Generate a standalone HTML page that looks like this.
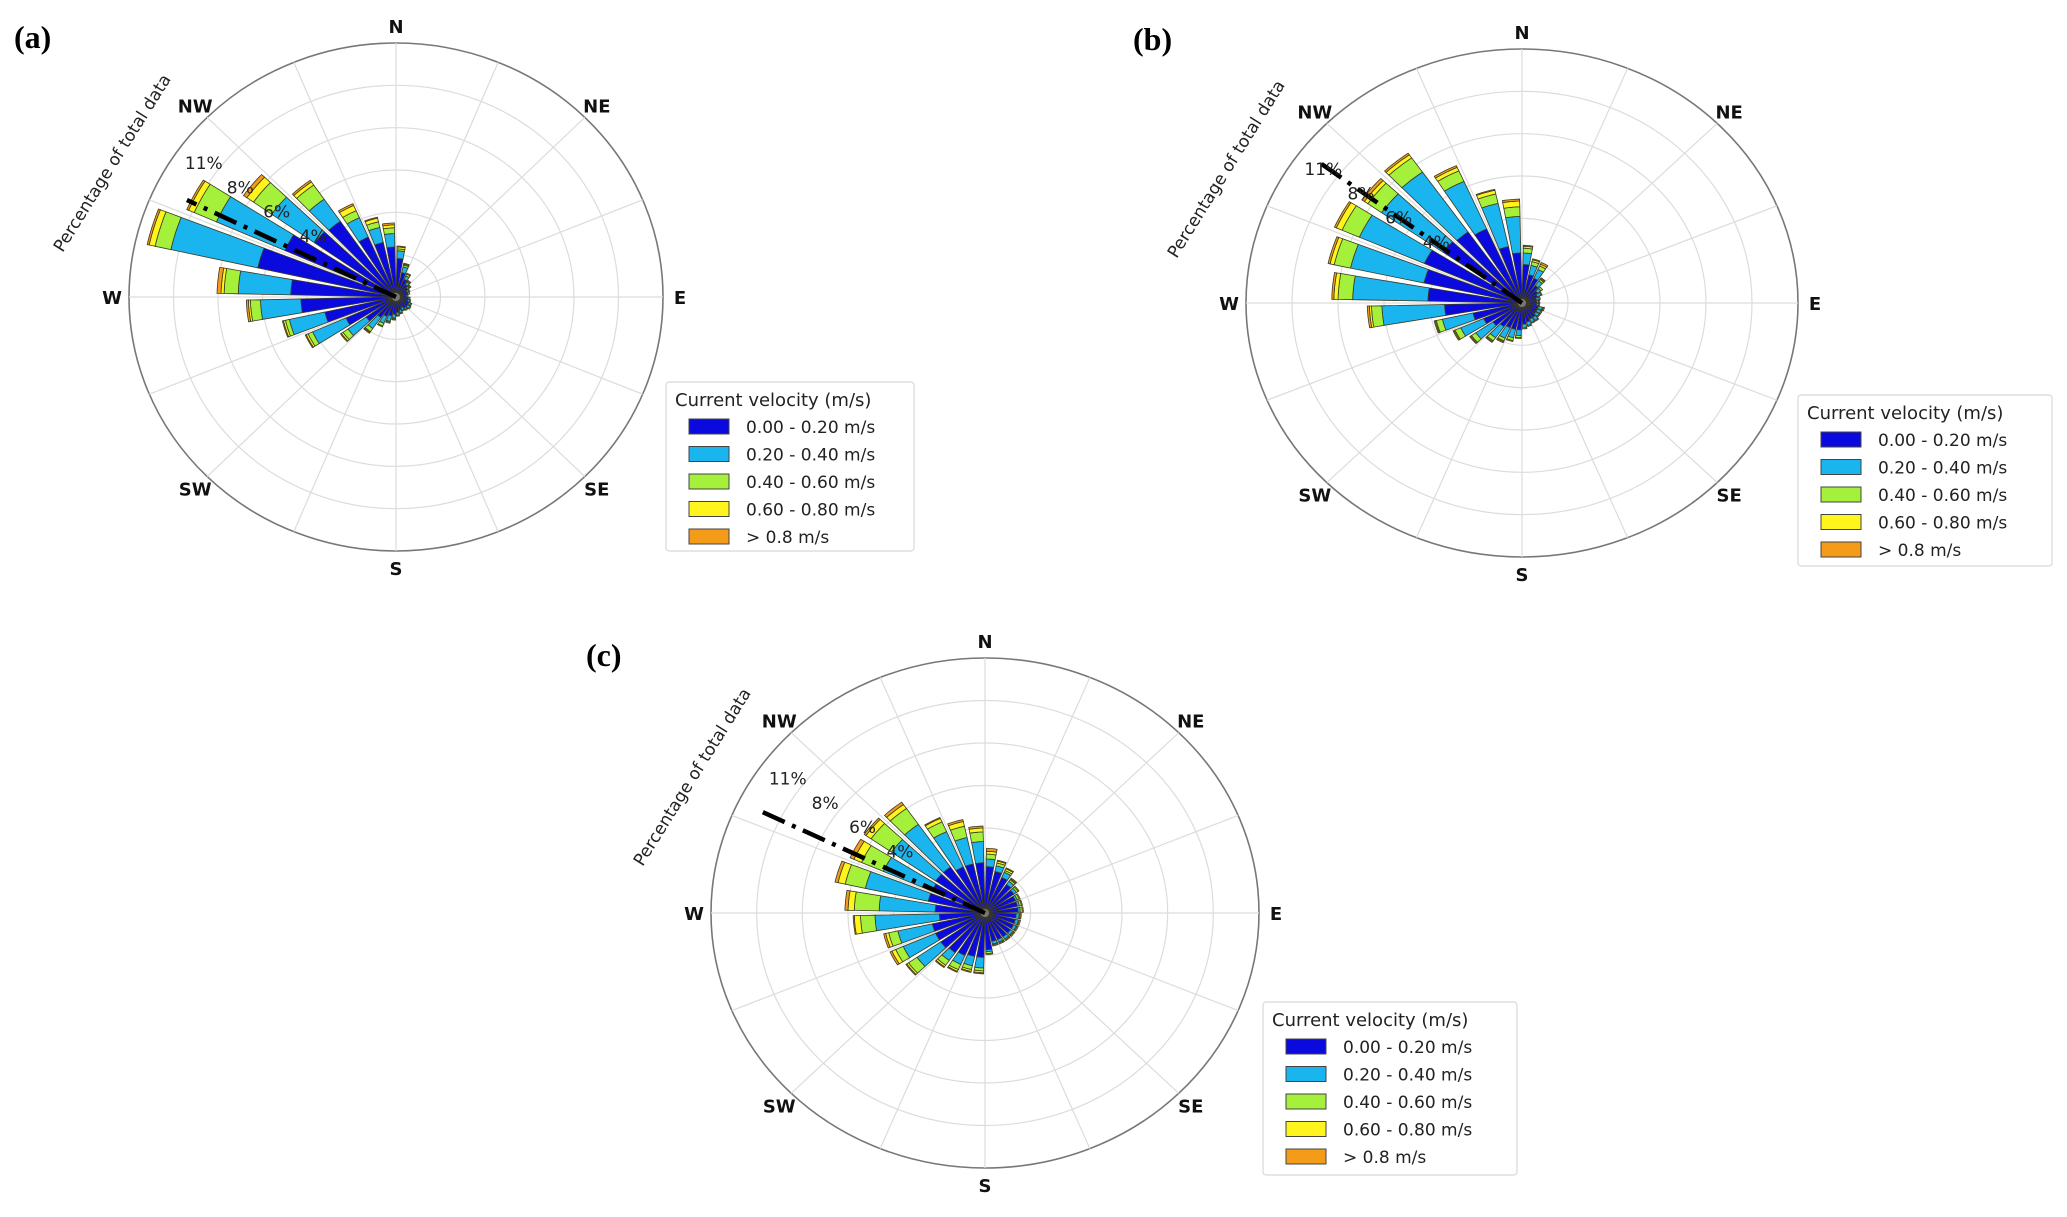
<!DOCTYPE html>
<html><head><meta charset="utf-8">
<style>
html,body{margin:0;padding:0;background:#fff;}
svg{display:block;}
text{font-family:"DejaVu Sans","Liberation Sans",sans-serif;}
</style></head>
<body>
<svg id="fig" width="2067" height="1217" viewBox="0 0 2067 1217" xmlns="http://www.w3.org/2000/svg"></svg>
<script>
// ---- data ----
const sectorCount = 32;
const binLabels = ["0.00 - 0.20 m/s","0.20 - 0.40 m/s","0.40 - 0.60 m/s","0.60 - 0.80 m/s","> 0.8 m/s"];
const binColors = ["#0a0ade","#1ab4ee","#a4f03a","#fff51c","#f59b1a"];
const ringValues = [2.2,4.4,6.6,8.8,11,13.2];
const ringTickValues = [4.4,6.6,8.8,11];
const ringTickLabels = ["4%","6%","8%","11%"];
const compassLabels = ["N","NE","E","SE","S","SW","W","NW"];

const aBlue   = [2.0,1.3,1.0,.8,.7,.6,.6,.5,.6,.6,.7,.7,.7,.6,.7,.8,.9,1.0,1.1,1.3,1.8,2.7,3.6,4.7,5.2,7.0,6.0,4.9,4.8,3.4,2.9,2.6];
const aCyan   = [.4,.3,.2,.15,.1,.1,.1,.1,.1,.1,.1,.15,.1,.15,.15,.15,.2,.3,.4,.7,1.1,1.8,1.8,2.0,2.6,4.4,3.7,2.6,1.4,1.1,.8,.7];
const aGreen  = [.1,.1,.1,.05,.05,.05,0,0,0,.05,.05,.05,.05,.05,.05,.05,.05,.05,.15,.2,.3,.25,.2,.5,.7,.8,1.2,1.1,.9,.4,.3,.3];
const aYellow = [.1,.05,0,.05,.05,0,0,0,0,0,0,0,0,0,0,0,0,.05,.05,.05,.1,.1,.1,.1,.15,.3,.3,.4,.2,.3,.2,.15];
const aOrange = [.05,.05,.05,0,0,0,0,0,0,0,0,0,0,0,0,0,.05,0,0,.05,.05,.05,.05,.1,.2,.1,.1,.2,.1,.1,.05,.1];

const bBlue   = [2.0,1.5,1.4,1.1,.9,.8,.7,.7,.7,.8,.8,.8,.9,.9,1.0,1.1,1.4,1.4,1.4,1.5,1.7,2.0,2.4,3.7,4.5,4.8,5.1,4.6,4.5,4.2,3.0,2.6];
const bCyan   = [.6,.5,.5,.3,.2,.2,.15,.1,.1,.2,.2,.2,.2,.2,.2,.2,.3,.45,.6,.7,1.0,1.2,1.5,3.0,3.6,3.6,3.4,3.6,3.8,2.7,2.3,1.9];
const bGreen  = [.25,.2,.2,.1,.1,.05,.05,.05,.05,.05,.05,.05,.05,.05,.05,.05,.1,.15,.15,.2,.25,.3,.3,.5,.7,.8,.9,.8,.9,.6,.5,.5];
const bYellow = [.1,.1,.1,.05,0,0,0,0,0,0,0,0,0,0,0,0,.05,.05,.05,.05,.05,.05,.05,.1,.2,.2,.3,.2,.2,.2,.2,.3];
const bOrange = [.05,.05,.1,.05,0,0,0,0,0,.05,0,0,0,0,0,0,0,0,.05,.05,.05,.05,.05,.1,.1,.1,.1,.15,.1,.1,.05,.1];

const cBlue   = [2.4,2.2,2.0,1.8,1.7,1.6,1.6,1.6,1.5,1.5,1.5,1.5,1.5,1.5,1.5,1.9,2.3,2.3,2.4,2.5,2.6,2.6,2.6,2.2,2.4,2.8,2.8,2.9,2.9,2.6,2.6,2.6];
const cCyan   = [.4,.3,.3,.2,.15,.1,.1,.1,.15,.15,.15,.15,.15,.15,.15,.1,.55,.5,.5,.5,1.4,1.7,1.7,3.1,2.7,3.1,2.55,2.6,2.7,2.0,1.4,1.1];
const cGreen  = [.25,.15,.1,.1,.1,.1,.1,.1,.05,.05,.05,.05,.05,.05,.05,.1,.15,.2,.3,.3,.5,.4,.45,.7,1.2,1.0,1.15,1.2,1.0,.55,.6,.5];
const cYellow = [.15,.1,.1,.05,.05,.05,.05,.05,.05,.05,.05,.05,.05,.05,.05,.05,.1,.1,.1,.1,.1,.2,.15,.3,.3,.35,.4,.3,.25,.2,.25,.2];
const cOrange = [.15,.05,.05,.05,0,0,0,0,0,0,0,0,0,0,0,0,.05,.05,.05,.05,.05,.1,.1,.05,.15,.15,.2,.1,.15,.05,.1,.1];

const meanDirections = [296, 307, 296];
const meanLengths = [11.5, 12.4, 12.3];

// ---- layout ----
const panels = [
  {id:"a", cx:396, cy:297, rx:267, ry:254, series:[aBlue,aCyan,aGreen,aYellow,aOrange],
   label:{x:14,y:48}, ylab:{x:117,y:166}, legend:{x:666,y:382,w:248,h:169}},
  {id:"b", cx:1522, cy:303, rx:276, ry:254, series:[bBlue,bCyan,bGreen,bYellow,bOrange],
   label:{x:1133,y:50}, ylab:{x:1231,y:172}, legend:{x:1798,y:395,w:254,h:171}},
  {id:"c", cx:985, cy:913, rx:274, ry:255, series:[cBlue,cCyan,cGreen,cYellow,cOrange],
   label:{x:586,y:666}, ylab:{x:697,y:780}, legend:{x:1263,y:1002,w:254,h:173}}
];

const NS = "http://www.w3.org/2000/svg";
const svg = document.getElementById("fig");
function mk(tag, attrs, parent){
  const e = document.createElementNS(NS, tag);
  for (const k in attrs) e.setAttribute(k, attrs[k]);
  (parent||svg).appendChild(e);
  return e;
}
const maxR = ringValues[ringValues.length-1];

panels.forEach((p, pi) => {
  const g = mk("g", {});
  
  
  const pt = (val, deg) => {
    const t = deg*Math.PI/180, f = val/maxR;
    return [p.cx + f*p.rx*Math.sin(t), p.cy - f*p.ry*Math.cos(t)];
  };
  // grid rings
  ringValues.forEach((v, i) => {
    const last = i === ringValues.length-1;
    const e = mk("ellipse", {cx:p.cx, cy:p.cy, rx:p.rx*v/maxR, ry:p.ry*v/maxR, fill:"none",
      stroke: last ? "#777" : "#dcdcdc", "stroke-width": last ? 1.6 : 1.2}, g);
    
    
  });
  // spokes
  for (let s = 0; s < 16; s++) {
    const [x, y] = pt(maxR, s*22.5);
    const l = mk("line", {x1:p.cx, y1:p.cy, x2:x, y2:y, stroke:"#dcdcdc", "stroke-width":1.2}, g);
    
    
  }
  // bars
  const half = 4.4;
  for (let k = 0; k < sectorCount; k++) {
    const th = 5.625 + k*360/sectorCount;
    let r0 = 0;
    for (let b = 0; b < 5; b++) {
      const v = p.series[b][k];
      if (v <= 0) continue;
      const r1 = r0 + v;
      let d = "";
      const n = 6;
      for (let i = 0; i <= n; i++) {
        const a = th - half + 2*half*i/n;
        const [x, y] = pt(r1, a);
        d += (i === 0 ? "M" : "L") + x.toFixed(1) + "," + y.toFixed(1);
      }
      for (let i = n; i >= 0; i--) {
        const a = th - half + 2*half*i/n;
        const [x, y] = pt(r0, a);
        d += "L" + x.toFixed(1) + "," + y.toFixed(1);
      }
      d += "Z";
      const seg = mk("path", {d:d, fill:binColors[b], stroke:"#3a3a20", "stroke-width":0.8}, g);
      
      
      r0 = r1;
    }
  }
  // center
  const c0 = mk("circle", {cx:p.cx, cy:p.cy, r:4, fill:"#777"}, g);
  
  
  // mean direction line
  const [mx, my] = pt(meanLengths[pi], meanDirections[pi]);
  const ml = mk("line", {x1:p.cx, y1:p.cy, x2:mx, y2:my, stroke:"#000", "stroke-width":4.5,
    "stroke-dasharray":"24,8,4,8"}, g);
  
  
  // ring tick labels
  ringTickValues.forEach((v, i) => {
    const [x, y] = pt(v + 0.6, 305);
    const t = mk("text", {x:x, y:y, "font-size":17, fill:"#222", "text-anchor":"middle"}, g);
    t.textContent = ringTickLabels[i];
    
    
  });
  // compass labels
  compassLabels.forEach((lab, i) => {
    const t = i*45*Math.PI/180;
    const x = p.cx + (p.rx+17)*Math.sin(t), y = p.cy - (p.ry+17)*Math.cos(t) + 7;
    const e = mk("text", {x:x, y:y, "font-size":18, "font-weight":"bold", fill:"#111", "text-anchor":"middle"}, g);
    e.textContent = lab;
    
    
  });
  // y label
  const yl = mk("text", {x:p.ylab.x, y:p.ylab.y, "font-size":17, fill:"#222", "text-anchor":"middle",
    transform:"rotate(-58 " + p.ylab.x + " " + p.ylab.y + ")"}, g);
  yl.textContent = "Percentage of total data";
  
  
  // panel label
  const pl = mk("text", {x:p.label.x, y:p.label.y, "font-size":32, "font-weight":"bold", fill:"#000",
    style:'font-family:"Liberation Serif",serif'}, g);
  pl.textContent = "(" + p.id + ")";
  
  
  // legend
  const L = p.legend;
  const lg = mk("g", {}, g);
  
  
  mk("rect", {x:L.x, y:L.y, width:L.w, height:L.h, rx:3, fill:"#fff", stroke:"#d8d8d8", "stroke-width":1.2}, lg);
  const lt = mk("text", {x:L.x+9, y:L.y+24, "font-size":18, fill:"#222"}, lg);
  lt.textContent = "Current velocity (m/s)";
  
  
  binLabels.forEach((lab, i) => {
    const yy = L.y + 45 + i*27.5;
    const r = mk("rect", {x:L.x+23, y:yy-8, width:40, height:15, fill:binColors[i], stroke:"#444", "stroke-width":1}, lg);
    
    
    const t = mk("text", {x:L.x+80, y:yy+6, "font-size":17, fill:"#222"}, lg);
    t.textContent = lab;
    
    
  });
});
</script>
</body></html>
